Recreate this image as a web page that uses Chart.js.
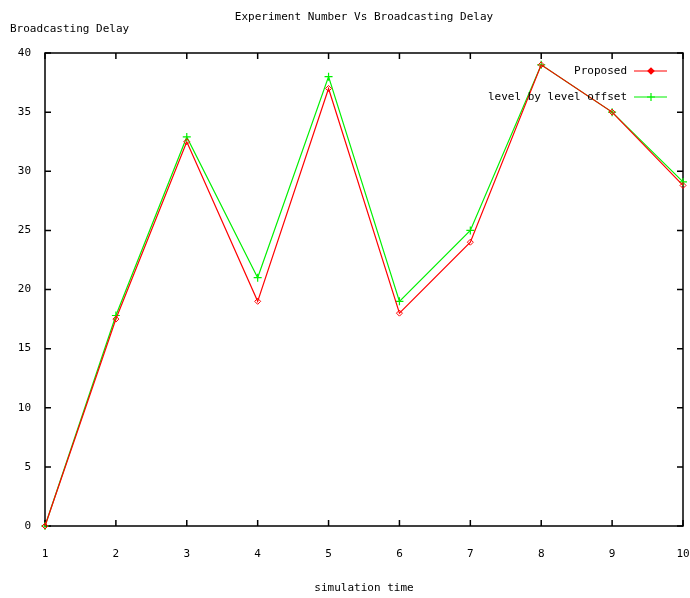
<!DOCTYPE html>
<html lang="en">
<head>
    <meta charset="UTF-8">
    <title>Experiment Number Vs Broadcasting Delay</title>
    <script src="https://cdn.jsdelivr.net/npm/chart.js"></script>
    <style>
        body { margin: 0; background: #fff; }
        #wrap { width: 690px; height: 598px; }
    </style>
</head>
<body>
    <div id="wrap"><canvas id="delayChart" width="690" height="598"></canvas></div>

    <script>
        // Data
        const simulationTime = [1, 2, 3, 4, 5, 6, 7, 8, 9, 10];
        const proposedDelay = [0, 17.5, 32.5, 19, 37, 18, 24, 39, 35, 28.8];
        const levelOffsetDelay = [0, 17.8, 32.9, 21, 38, 19, 25, 39, 35, 29.1];
        const seriesNames = ['Proposed', 'level by level offset'];

        const FONT = '11px "DejaVu Sans Mono", monospace';

        function toPoints(values) {
            return simulationTime.map((t, i) => ({ x: t, y: values[i] }));
        }

        // gnuplot-like frame with inward ticks on all four sides
        const framePlugin = {
            id: 'frame',
            beforeDatasetsDraw(chart) {
                const { ctx, chartArea: a, scales: { x, y } } = chart;
                ctx.save();
                ctx.strokeStyle = '#000';
                ctx.lineWidth = 1.5;
                ctx.strokeRect(a.left, a.top, a.right - a.left, a.bottom - a.top);
                ctx.beginPath();
                x.ticks.forEach(t => {
                    const px = x.getPixelForValue(t.value);
                    ctx.moveTo(px, a.bottom); ctx.lineTo(px, a.bottom - 6);
                    ctx.moveTo(px, a.top); ctx.lineTo(px, a.top + 6);
                });
                y.ticks.forEach(t => {
                    const py = y.getPixelForValue(t.value);
                    ctx.moveTo(a.left, py); ctx.lineTo(a.left + 6, py);
                    ctx.moveTo(a.right, py); ctx.lineTo(a.right - 6, py);
                });
                ctx.stroke();
                ctx.restore();
            },
            afterDraw(chart) {
                const { ctx, chartArea: a } = chart;
                ctx.save();
                ctx.font = FONT;
                ctx.fillStyle = '#000';
                ctx.textBaseline = 'middle';
                const mid = (a.left + a.right) / 2;

                ctx.textAlign = 'center';
                ctx.fillText('Experiment Number Vs Broadcasting Delay', mid, 17);
                ctx.fillText('simulation time', mid, 588);
                ctx.textAlign = 'left';
                ctx.fillText('Broadcasting Delay', 10, 29);

                // legend inside top right
                chart.data.datasets.forEach((ds, i) => {
                    const ly = 71 + i * 26;
                    ctx.textAlign = 'right';
                    ctx.fillStyle = '#000';
                    ctx.fillText(ds.label, 627, ly);
                    ctx.strokeStyle = ds.borderColor;
                    ctx.fillStyle = ds.borderColor;
                    ctx.lineWidth = 1.2;
                    ctx.beginPath();
                    ctx.moveTo(634, ly); ctx.lineTo(667, ly);
                    ctx.stroke();
                    Chart.helpers.drawPoint(ctx, {
                        pointStyle: ds.pointStyle,
                        radius: ds.pointRadius,
                        borderWidth: 1.2,
                        rotation: 0
                    }, 651, ly);
                });
                ctx.restore();
            }
        };

        const ctx = document.getElementById('delayChart').getContext('2d');
        new Chart(ctx, {
            type: 'line',
            data: {
                datasets: [{
                    label: seriesNames[0],
                    data: toPoints(proposedDelay),
                    borderColor: '#ff0000',
                    backgroundColor: '#ff0000',
                    borderWidth: 1.2,
                    pointStyle: 'rectRot',
                    pointRadius: 3,
                    pointBorderWidth: 1,
                    pointBackgroundColor: 'rgba(255,255,255,0)',
                    clip: false
                }, {
                    label: seriesNames[1],
                    data: toPoints(levelOffsetDelay),
                    borderColor: '#00f000',
                    backgroundColor: '#00f000',
                    borderWidth: 1.2,
                    pointStyle: 'cross',
                    pointRadius: 4,
                    pointBorderWidth: 1.2,
                    clip: false
                }]
            },
            options: {
                responsive: false,
                animation: false,
                layout: { padding: { top: 53, right: 7, left: 0, bottom: 0 } },
                plugins: {
                    legend: { display: false },
                    title: { display: false },
                    tooltip: { enabled: false }
                },
                scales: {
                    x: {
                        type: 'linear',
                        min: 1,
                        max: 10,
                        grid: { display: false },
                        border: { display: false },
                        ticks: {
                            stepSize: 1,
                            padding: 14,
                            color: '#000',
                            font: { family: '"DejaVu Sans Mono", monospace', size: 11 }
                        },
                        afterFit(scale) {
                            scale.height = 72;
                            scale.paddingLeft = 0;
                            scale.paddingRight = 0;
                        }
                    },
                    y: {
                        min: 0,
                        max: 40,
                        grid: { display: false },
                        border: { display: false },
                        ticks: {
                            stepSize: 5,
                            padding: 6,
                            color: '#000',
                            font: { family: '"DejaVu Sans Mono", monospace', size: 11 }
                        },
                        afterFit(scale) { scale.width = 45; }
                    }
                }
            },
            plugins: [framePlugin]
        });
    </script>
</body>
</html>
